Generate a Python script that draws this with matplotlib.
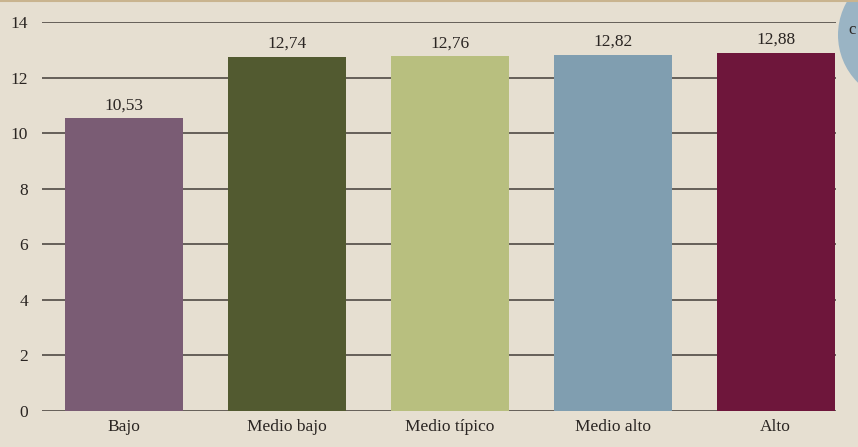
import matplotlib.pyplot as plt
from matplotlib.patches import Ellipse

categories = ["Bajo", "Medio bajo", "Medio típico", "Medio alto", "Alto"]
values = [10.53, 12.74, 12.76, 12.82, 12.88]
labels = ["10,53", "12,74", "12,76", "12,82", "12,88"]
colors = ["#7a5c74", "#525a30", "#b8bf7f", "#809eb0", "#6e163b"]

bg = "#e6dfd1"
plt.rcParams["font.family"] = ["Liberation Serif", "DejaVu Serif"]

fig = plt.figure(figsize=(8.58, 4.47), dpi=100, facecolor=bg)
ax = fig.add_axes([42 / 858, 36 / 447, 794 / 858, 389 / 447])
ax.set_facecolor(bg)

x = range(len(categories))
ax.bar(x, values, width=0.724, color=colors, zorder=3)
for xi, v, lab in zip(x, values, labels):
    ax.text(xi, v + 0.18, lab, ha="center", va="bottom", fontsize=12.5, color="#2a2522")

ax.set_ylim(0, 14)
ax.set_xlim(-0.503, 4.37)
ax.set_yticks(range(0, 15, 2))
ax.yaxis.grid(True, color="#4f4a44", linewidth=1.2, zorder=1)
ax.set_xticks(list(x))
ax.set_xticklabels(categories)
ax.tick_params(axis="both", length=0, labelsize=12.5, colors="#2a2522")
ax.tick_params(axis="y", pad=10)
ax.tick_params(axis="x", pad=6)
for s in ax.spines.values():
    s.set_visible(False)

# top border line and decorative circle at the right edge
fig.add_artist(plt.Line2D([0, 1], [0.998, 0.998], color="#c9b48f", linewidth=1.5))
fig.add_artist(Ellipse((905 / 858, 1 - 35 / 447), 134 / 858, 134 / 447,
                       transform=fig.transFigure, facecolor="#9ab4c4", edgecolor="none"))
fig.text(848 / 858, 1 - 30 / 447, "c", fontsize=12, color="#2a2522", va="center", ha="left")

fig.savefig("out.png", dpi=100, facecolor=bg)
